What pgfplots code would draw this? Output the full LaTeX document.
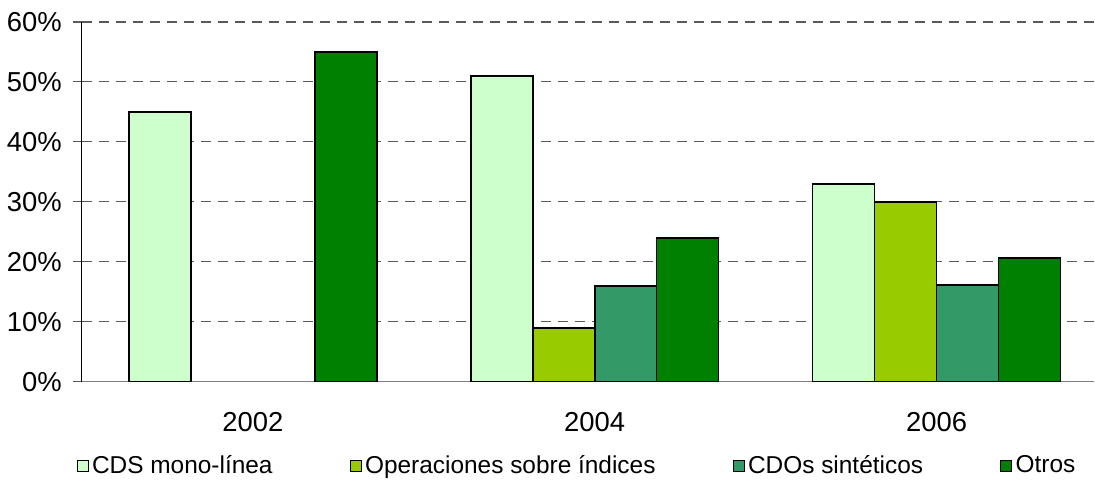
\documentclass[border=0pt]{standalone}
\usepackage{fontspec}
\setmainfont{Liberation Sans}
\usepackage{pgfplots}
\pgfplotsset{compat=1.18}

\definecolor{cdsmono}{HTML}{CCFFCC}
\definecolor{opindices}{HTML}{99CC00}
\definecolor{cdosint}{HTML}{339966}
\definecolor{otros}{HTML}{008000}
\definecolor{gridgray}{HTML}{5A5A5A}

\begin{document}
\begin{tikzpicture}
\begin{axis}[
    scale only axis,
    width=20.26cm, height=7.2cm,
    font=\fontsize{15.6pt}{18pt}\selectfont,
    ybar, bar width=0.1813,
    xmin=-0.5, xmax=2.462,
    ymin=0, ymax=60,
    axis x line*=bottom, axis y line*=left,
    x axis line style={draw=gray, line width=0.6pt},
    y axis line style={draw=black, line width=0.6pt},
    xtick={0,1,2}, xticklabels={2002,2004,2006},
    xtick style={draw=none},
    xticklabel style={yshift=-0.3cm},
    extra x ticks={-0.5,0.5,1.5},
    extra x tick labels={},
    extra x tick style={grid=none, tick align=outside, major tick length=0.18cm,
        tick style={draw=gray, line width=0.6pt}},
    ytick={0,10,...,60},
    yticklabels={0\%,10\%,20\%,30\%,40\%,50\%,60\%},
    tick align=outside,
    ytick style={draw=gridgray, line width=0.6pt},
    major tick length=0.18cm,
    yticklabel style={xshift=-0.1cm},
    ymajorgrids,
    grid style={gridgray, line width=0.6pt, dash pattern=on 0.2cm off 0.14cm},
    legend columns=4,
    legend style={draw=none, at={(axis description cs:0.4896,0)}, anchor=center,
        yshift=-1.68cm, font=\fontsize{13.9pt}{16pt}\selectfont,
        /tikz/every even column/.append style={column sep=1.47cm}},
    legend image code/.code={\draw[#1, draw=black, line width=0.6pt] (0cm,-0.11cm) rectangle (0.22cm,0.11cm);},
]
\addplot[fill=cdsmono, draw=black, line width=0.9pt, bar shift=-0.272] coordinates {(0,45) (1,51) (2,33)};
\addlegendentry{CDS mono-línea}
\addplot[fill=opindices, draw=black, line width=0.9pt, bar shift=-0.0907] coordinates {(1,9) (2,30)};
\addlegendentry{Operaciones sobre índices}
\addplot[fill=cdosint, draw=black, line width=0.9pt, bar shift=0.0907] coordinates {(1,16) (2,16.1)};
\addlegendentry{CDOs sintéticos}
\addplot[fill=otros, draw=black, line width=0.9pt, bar shift=0.272] coordinates {(0,55) (1,24) (2,20.6)};
\addlegendentry{Otros}
\end{axis}
\path[use as bounding box] (-1.64,-1.92) rectangle (20.26,7.64);
\end{tikzpicture}
\end{document}
